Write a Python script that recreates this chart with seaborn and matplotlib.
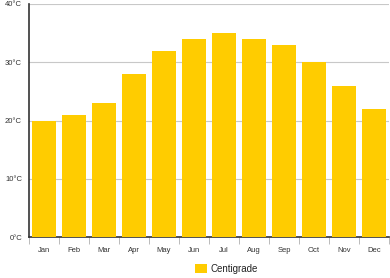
import matplotlib
matplotlib.use("Agg")
import matplotlib.pyplot as plt
import seaborn as sns
import pandas as pd
from matplotlib.patches import Patch
from matplotlib.ticker import FixedLocator

months = ["Jan", "Feb", "Mar", "Apr", "May", "Jun", "Jul", "Aug", "Sep", "Oct", "Nov", "Dec"]
centigrade = [20, 21, 23, 28, 32, 34, 35, 34, 33, 30, 26, 22]
y_ticks = [0, 10, 20, 30, 40]
y_labels = ["0°C", "10°C", "20°C", "30°C", "40°C"]
series_name = "Centigrade"
bar_color = "#FFCC00"

sns.set_style("white")
plt.rcParams["font.family"] = ["Liberation Sans", "DejaVu Sans"]

df = pd.DataFrame({"month": months, "value": centigrade})

fig = plt.figure(figsize=(3.9, 2.78), dpi=100)
ax = fig.add_axes([29 / 390, 1 - 237 / 278, 360 / 390, (237 - 4) / 278])

sns.barplot(data=df, x="month", y="value", color=bar_color, saturation=1,
            width=0.78, ax=ax, zorder=3, linewidth=0, edgecolor="none")

ax.set_ylim(0, 40)
ax.set_xlim(-0.5, len(months) - 0.5)
ax.set_yticks(y_ticks)
ax.set_yticklabels(y_labels)
ax.yaxis.grid(True, color="#c8c8c8", linewidth=0.8, linestyle="-", zorder=0)
ax.xaxis.grid(False)
ax.set_axisbelow(True)
ax.set_xlabel("")
ax.set_ylabel("")

ax.tick_params(axis="y", length=0, labelsize=5.5, labelcolor="#333333", pad=5)
ax.tick_params(axis="x", which="major", length=0, labelsize=5.5, labelcolor="#333333", pad=7)
ax.xaxis.set_minor_locator(FixedLocator([i - 0.5 for i in range(len(months) + 1)]))
ax.tick_params(axis="x", which="minor", bottom=True, length=5, width=0.6,
               color="#b0b0b0", direction="out")

for s in ["top", "right"]:
    ax.spines[s].set_visible(False)
ax.spines["left"].set_color("#333333")
ax.spines["left"].set_linewidth(1.2)
ax.spines["bottom"].set_color("#333333")
ax.spines["bottom"].set_linewidth(1.2)

handles = [Patch(facecolor=bar_color, edgecolor="none", label=series_name)]
fig.legend(handles=handles, loc="center", bbox_to_anchor=(226 / 390, 1 - 269 / 278),
           frameon=False, fontsize=7, handlelength=1.3, handleheight=1.1, handletextpad=0.3,
           labelcolor="#222222")

fig.savefig("out.png", dpi=100)
